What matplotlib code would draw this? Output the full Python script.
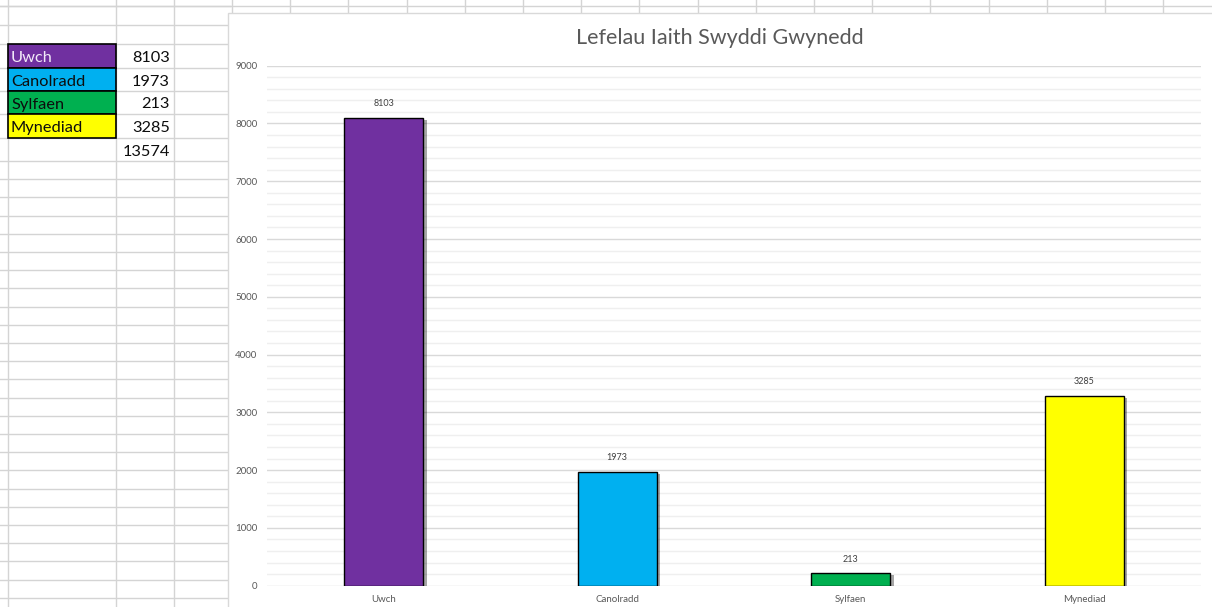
import matplotlib.pyplot as plt
import matplotlib.patheffects as pe
from matplotlib.patches import Rectangle
import numpy as np

plt.rcParams['font.family'] = ['Lato', 'DejaVu Sans']

# data
categories = ['Uwch', 'Canolradd', 'Sylfaen', 'Mynediad']
values = [8103, 1973, 213, 3285]
colors = ['#7030A0', '#00B0F0', '#00B050', '#FFFF00']
label_colors = ['#F2EAF8', '#0D0D0D', '#0D0D0D', '#0D0D0D']
title = 'Lefelau Iaith Swyddi Gwynedd'
total = sum(values)

W, H = 1212, 607
fig = plt.figure(figsize=(W / 100, H / 100), dpi=100)

# spreadsheet background, drawn in pixel coordinates
bg = fig.add_axes([0, 0, 1, 1])
bg.set_xlim(0, W)
bg.set_ylim(H, 0)
bg.axis('off')

grid_c = '#D4D4D4'
row_lines = [6, 25, 44, 68, 91, 114, 138, 161]
y = 161
while y < H:
    y += 18.2
    row_lines.append(y)
for r in row_lines:
    bg.plot([0, 230], [r, r], color=grid_c, lw=1)
for c in [7.5, 116, 174]:
    bg.plot([c, c], [0, H], color=grid_c, lw=1)
# grid showing above the chart
bg.plot([0, W], [6, 6], color=grid_c, lw=1)
for c in np.arange(232, W, 58.2):
    bg.plot([c, c], [0, 13], color=grid_c, lw=1)

# table cells
row_tops = [44, 68, 91, 114]
fs = 11.8
for i, (cat, val) in enumerate(zip(categories, values)):
    top, bot = row_tops[i], row_lines[3 + i]
    bg.add_patch(Rectangle((8, top), 108, bot - top, facecolor=colors[i],
                           edgecolor='black', lw=1.2, zorder=3))
    bg.text(11, (top + bot) / 2 + 2, cat, fontsize=fs, color=label_colors[i],
            va='center', ha='left', zorder=4)
    bg.text(170, (top + bot) / 2 + 2, str(val), fontsize=fs, color='#0D0D0D',
            va='center', ha='right', zorder=4)
bg.text(170, (138 + 161) / 2 + 2, str(total), fontsize=fs, color='#0D0D0D',
        va='center', ha='right', zorder=4)

# chart frame
bg.add_patch(Rectangle((228, 12.5), W, H, facecolor='white',
                       edgecolor='#D9D9D9', lw=1, zorder=5))
bg.text(720, 38, title, fontsize=15.5, color='#595959', ha='center', va='center', zorder=6)

# chart
ax = fig.add_axes([267 / W, (H - 585.7) / H, (1201 - 267) / W, (585.7 - 65.7) / H])
ax.patch.set_visible(False)
x = np.arange(len(categories))
bars = ax.bar(x, values, width=0.338, color=colors, edgecolor='black', lw=1, zorder=3)
for b in bars:
    b.set_path_effects([pe.SimplePatchShadow(offset=(2.5, -1.5), shadow_rgbFace='#000000', alpha=0.35),
                        pe.Normal()])
ax.bar_label(bars, padding=7, fontsize=6.5, color='#404040')

ax.set_xlim(-0.5, len(categories) - 0.5)
ax.set_ylim(0, 9000)
ax.set_yticks(np.arange(0, 9001, 1000))
ax.set_yticks(np.arange(0, 9001, 200), minor=True)
ax.grid(axis='y', which='major', color='#D9D9D9', lw=1, zorder=0)
ax.grid(axis='y', which='minor', color='#EFEFEF', lw=1, zorder=0)
ax.set_xticks(x)
ax.set_xticklabels(categories)
ax.tick_params(axis='both', which='both', length=0, labelsize=7, colors='#595959')
ax.tick_params(axis='y', pad=7)
ax.tick_params(axis='x', pad=7)
for s in ax.spines.values():
    s.set_visible(False)

fig.savefig('out.png', dpi=100)
